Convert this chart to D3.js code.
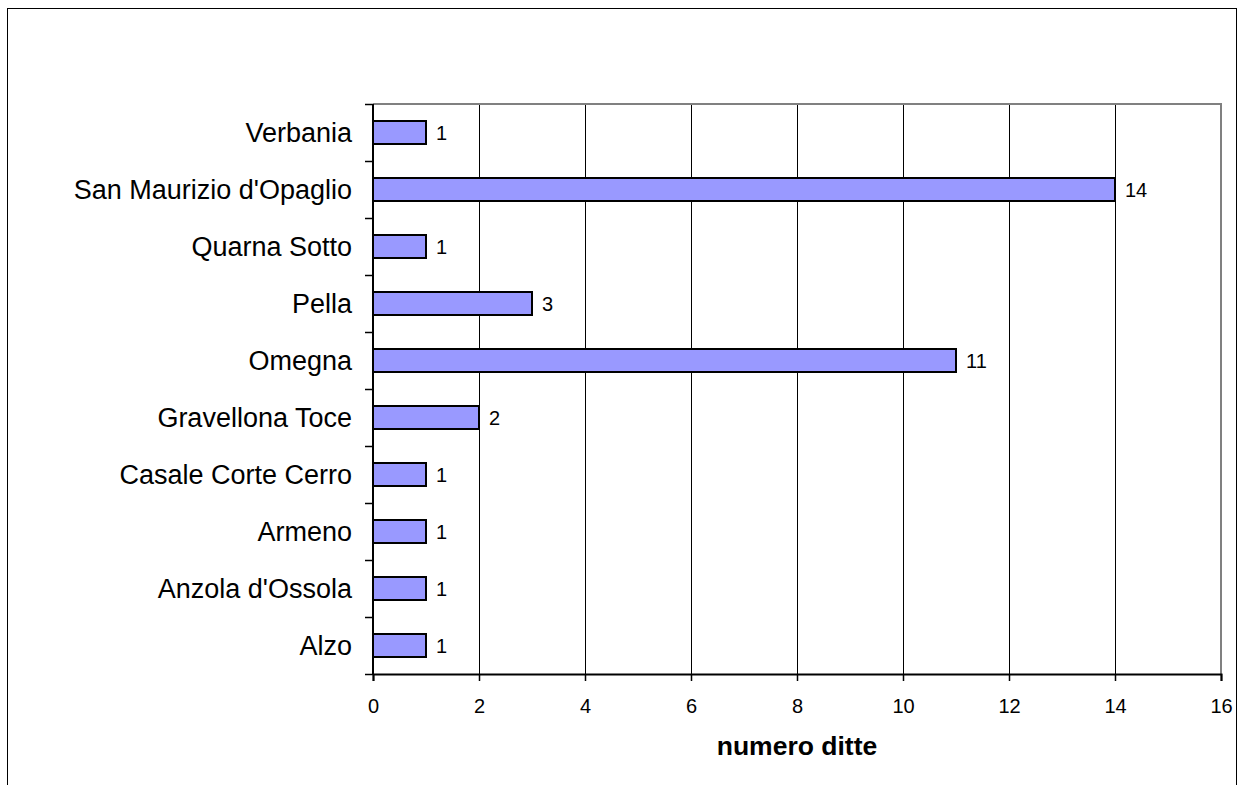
<!DOCTYPE html>
<html><head><meta charset="utf-8">
<script src="https://cdn.jsdelivr.net/npm/d3@7"></script>
<style>body{margin:0;background:#fff}svg{display:block}text{font-family:"Liberation Sans",Arial,sans-serif}</style>
</head><body>
<script>
const categories = ["Verbania","San Maurizio d'Opaglio","Quarna Sotto","Pella","Omegna","Gravellona Toce","Casale Corte Cerro","Armeno","Anzola d'Ossola","Alzo"];
const values = [1,14,1,3,11,2,1,1,1,1];
const xTicks = [0,2,4,6,8,10,12,14,16];
const xTitle = "numero ditte";

const W=1245,H=785;
const L=373,R=1221,T=104,B=674;
const svg=d3.select("body").append("svg").attr("width",W).attr("height",H);
svg.append("rect").attr("x",7.5).attr("y",8.5).attr("width",1229).attr("height",800).attr("fill","#fff").attr("stroke","#000").attr("stroke-width",1);

const x=d3.scaleLinear().domain([0,16]).range([L,R]);
const yb=d3.scaleBand().domain(categories).range([T,B]);

// gridlines
svg.append("g").selectAll("line").data(xTicks.slice(1,-1)).join("line")
 .attr("x1",d=>Math.round(x(d))+0.5).attr("x2",d=>Math.round(x(d))+0.5).attr("y1",T).attr("y2",B).attr("stroke","#000").attr("stroke-width",1);
// plot border top/right gray
svg.append("path").attr("d",`M${L},${T}H${R}V${B}`).attr("fill","none").attr("stroke","#808080").attr("stroke-width",2);

// bars
svg.append("g").selectAll("rect").data(values).join("rect")
 .attr("x",x(0)).attr("y",(d,i)=>yb(categories[i])+yb.bandwidth()/2-11.5)
 .attr("width",d=>x(d)-x(0)).attr("height",23)
 .attr("fill","#9999FF").attr("stroke","#000").attr("stroke-width",2);

// value labels
svg.append("g").selectAll("text").data(values).join("text")
 .attr("x",d=>x(d)+10).attr("y",(d,i)=>yb(categories[i])+yb.bandwidth()/2+7)
 .attr("font-size",20).text(d=>d);

// x axis
const xa=svg.append("g").attr("transform",`translate(0,${B})`).call(d3.axisBottom(x).tickValues(xTicks).tickSize(7).tickPadding(18).tickFormat(d3.format("d")));
xa.select(".domain").attr("stroke","#000").attr("stroke-width",2);
xa.selectAll(".tick line").attr("stroke","#000").attr("stroke-width",1.5);
xa.selectAll("text").attr("font-size",20).attr("fill","#000").attr("font-family","Liberation Sans, Arial, sans-serif");

// y axis
const ya=svg.append("g").attr("transform",`translate(${L},0)`);
ya.append("line").attr("x1",0).attr("x2",0).attr("y1",T).attr("y2",B).attr("stroke","#000").attr("stroke-width",2);
const bounds=categories.map(c=>yb(c)).concat([B]);
ya.selectAll("line.t").data(bounds).join("line").attr("class","t")
 .attr("x1",-8).attr("x2",0).attr("y1",d=>Math.round(d)+0.5).attr("y2",d=>Math.round(d)+0.5).attr("stroke","#000").attr("stroke-width",1.5);
ya.selectAll("text").data(categories).join("text")
 .attr("x",-21).attr("y",c=>yb(c)+yb.bandwidth()/2+9.5).attr("text-anchor","end")
 .attr("font-size",27).text(c=>c);

svg.append("text").attr("x",(L+R)/2).attr("y",755).attr("text-anchor","middle")
 .attr("font-size",26.5).attr("font-weight","bold").text(xTitle);
</script>
</body></html>
